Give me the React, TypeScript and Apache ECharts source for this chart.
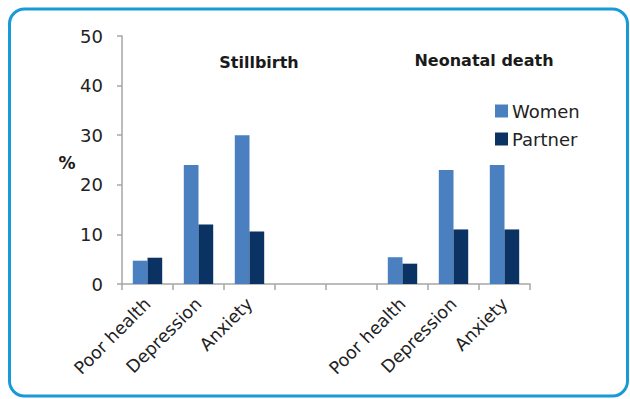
import React, { useEffect, useRef } from "react";
import * as echarts from "echarts";

const categories = ["Poor health", "Depression", "Anxiety", "", "", "Poor health", "Depression", "Anxiety"];
const women = [4.7, 24, 30, null, null, 5.4, 23, 24];
const partner = [5.3, 12, 10.6, null, null, 4.1, 11, 11];
const yTicks = { min: 0, max: 50, interval: 10 };
const groupTitles = ["Stillbirth", "Neonatal death"];
const seriesNames = ["Women", "Partner"];

export default function App() {
  const ref = useRef<HTMLDivElement>(null);
  useEffect(() => {
    if (!ref.current) return;
    const chart = echarts.init(ref.current, undefined, { renderer: "svg" });
    const font = "DejaVu Sans";
    chart.setOption({
      animation: false,
      textStyle: { fontFamily: font },
      grid: { left: 122, top: 36, width: 408, height: 248, containLabel: false },
      legend: {
        orient: "vertical",
        left: 495,
        top: 102,
        padding: 0,
        itemWidth: 13,
        itemHeight: 13,
        itemGap: 10,
        icon: "rect",
        textStyle: { fontSize: 18, color: "#222", fontFamily: font, padding: [0, 0, 0, -1] },
        data: seriesNames,
      },
      xAxis: {
        type: "category",
        data: categories,
        axisLine: { lineStyle: { color: "#a6a6a6", width: 1.5 } },
        axisTick: { show: true, length: 6, lineStyle: { color: "#a6a6a6", width: 1.5 } },
        axisLabel: {
          rotate: 45,
          interval: 0,
          margin: 17,
          fontSize: 17.5,
          color: "#222",
          fontFamily: font,
        },
      },
      yAxis: {
        type: "value",
        min: yTicks.min,
        max: yTicks.max,
        interval: yTicks.interval,
        splitLine: { show: false },
        axisLine: { show: true, lineStyle: { color: "#a6a6a6", width: 1.5 } },
        axisTick: { show: true, length: 5, lineStyle: { color: "#a6a6a6", width: 1.5 } },
        axisLabel: { margin: 19, fontSize: 18, color: "#222", fontFamily: font },
      },
      series: [
        {
          name: seriesNames[0],
          type: "bar",
          data: women,
          barWidth: 14.7,
          barGap: "0%",
          itemStyle: { color: "#4a80c0" },
        },
        {
          name: seriesNames[1],
          type: "bar",
          data: partner,
          barWidth: 14.7,
          barGap: "0%",
          itemStyle: { color: "#0a3363" },
        },
      ],
      graphic: [
        {
          type: "rect",
          shape: { x: 9.5, y: 9, width: 618, height: 387, r: 15 },
          style: { fill: "none", stroke: "#199ad8", lineWidth: 3 },
          silent: true,
        },
        {
          type: "text",
          x: 259,
          y: 62,
          style: {
            text: groupTitles[0],
            font: `bold 16px "${font}"`,
            fill: "#1a1a1a",
            textAlign: "center",
            textVerticalAlign: "middle",
          },
        },
        {
          type: "text",
          x: 484,
          y: 60,
          style: {
            text: groupTitles[1],
            font: `bold 16px "${font}"`,
            fill: "#1a1a1a",
            textAlign: "center",
            textVerticalAlign: "middle",
          },
        },
        {
          type: "text",
          x: 67,
          y: 163,
          style: {
            text: "%",
            font: `bold 17px "${font}"`,
            fill: "#1a1a1a",
            textAlign: "center",
            textVerticalAlign: "middle",
          },
        },
      ],
    });
    return () => chart.dispose();
  }, []);
  return <div ref={ref} style={{ width: 630, height: 399, position: "absolute", left: 0, top: 0 }} />;
}
